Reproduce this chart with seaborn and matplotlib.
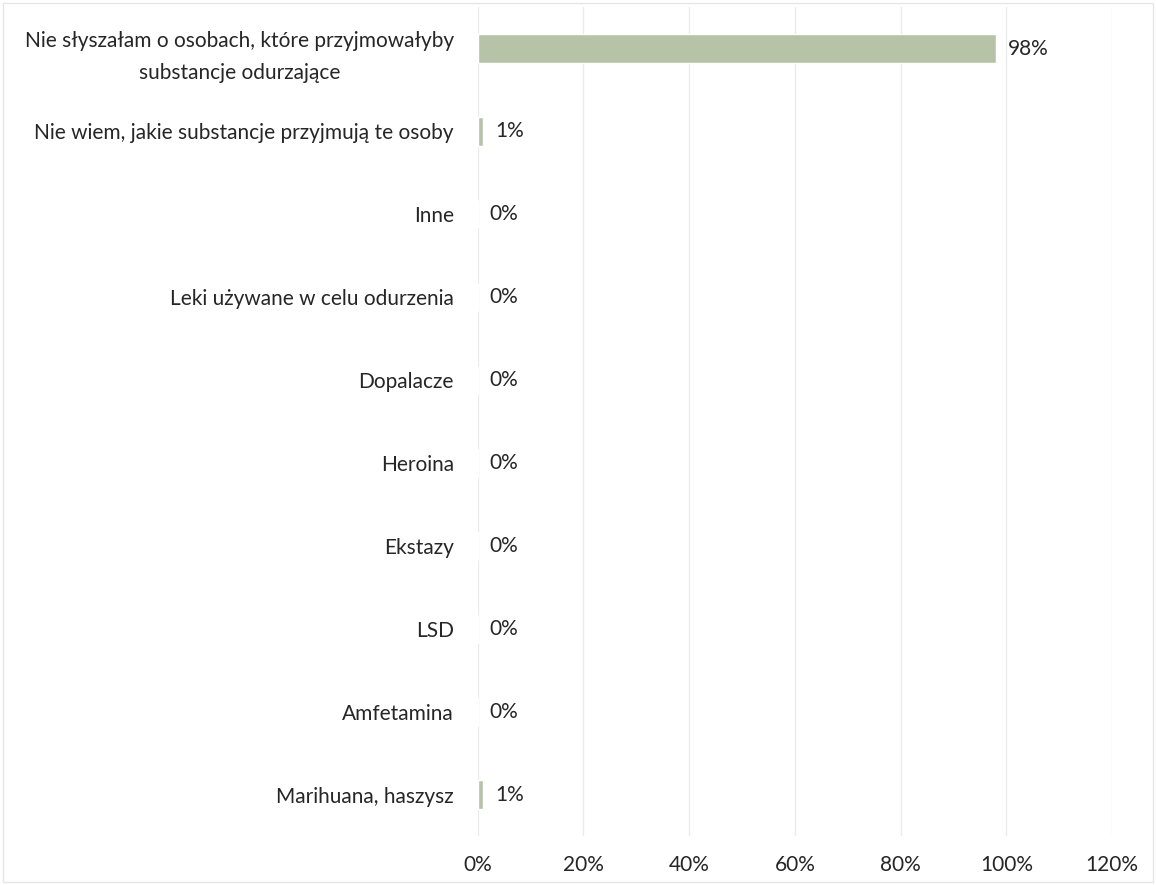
"""
Horizontal bar chart of answers about substances (survey results).
"""
# %% IMPORT LIBRARIES
import pandas as pd
import matplotlib.pyplot as plt
import matplotlib.ticker as mticker
import seaborn as sns

sns.set_style("white")
plt.rcParams['font.family'] = ['Lato', 'DejaVu Sans']

# %% DATA
answers = ["Nie słyszałam o osobach, które przyjmowałyby\nsubstancje odurzające",
           "Nie wiem, jakie substancje przyjmują te osoby",
           "Inne",
           "Leki używane w celu odurzenia",
           "Dopalacze",
           "Heroina",
           "Ekstazy",
           "LSD",
           "Amfetamina",
           "Marihuana, haszysz"]
shares = [0.98, 0.01, 0.0, 0.0, 0.0, 0.0, 0.0, 0.0, 0.0, 0.01]
value_labels = ["98%", "1%", "0%", "0%", "0%", "0%", "0%", "0%", "0%", "1%"]
x_ticks = [0, 0.2, 0.4, 0.6, 0.8, 1.0, 1.2]

data_plot = pd.DataFrame({"answer": answers, "share": shares})

# %% Plot
fig = plt.figure(figsize=(11.56, 8.85), dpi=100)
ax = fig.add_axes([0.4131, 0.0554, 0.549, 0.9366])

sns.barplot(data=data_plot, x="share", y="answer", orient="h",
            color="#b8c8a2", width=0.34, ax=ax, zorder=2)

for i, (val, lab) in enumerate(zip(shares, value_labels)):
    ax.text(val + 0.023, i, lab, va="center", ha="left",
            fontsize=15, color="#262626")

ax.set_xlim(0, 1.2)
ax.set_xticks(x_ticks)
ax.xaxis.set_major_formatter(mticker.PercentFormatter(1.0, decimals=0))
ax.set_xlabel("")
ax.set_ylabel("")
ax.grid(True, axis="x", color="#ebebeb", linewidth=1, zorder=0)
ax.tick_params(axis="y", length=0, labelsize=15, colors="#262626", pad=17)
ax.tick_params(axis="x", length=0, labelsize=15, colors="#262626", pad=14)
for lab in ax.get_yticklabels():
    lab.set_multialignment("center")
    lab.set_linespacing(1.75)
for spine in ax.spines.values():
    spine.set_visible(False)

# thin frame around the whole chart
fig.patches.append(plt.Rectangle((0.003, 0.003), 0.994, 0.994, transform=fig.transFigure,
                                 fill=False, edgecolor="#e6e6e6", linewidth=1))

plt.savefig("out.png", dpi=100)
